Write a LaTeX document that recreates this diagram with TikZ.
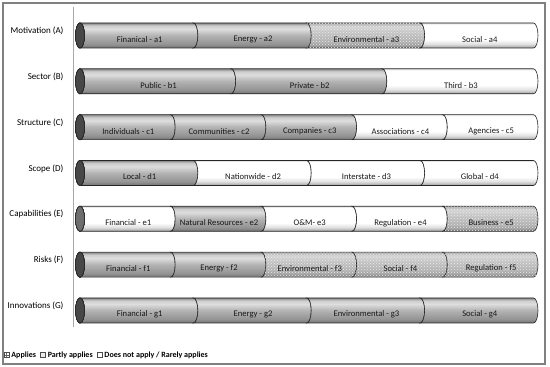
\documentclass[tikz,border=0pt]{standalone}
\usepackage{fontspec}
\setmainfont{Carlito}
\usetikzlibrary{positioning,patterns}
\definecolor{framegray}{HTML}{808080}
\definecolor{rulegray}{HTML}{A8A8A8}
\definecolor{capdark}{HTML}{474747}
\definecolor{capmid}{HTML}{6E6E6E}

% cylinder shadings, 25bp = bottom, 75bp = top
\pgfdeclareverticalshading{appliesshade}{100bp}{color(0bp)=(black!55); color(25bp)=(black!55); color(33bp)=(black!42); color(50bp)=(black!30); color(63bp)=(black!13); color(70bp)=(black!20); color(75bp)=(black!48); color(100bp)=(black!48)}
\pgfdeclareverticalshading{partshade}{100bp}{color(0bp)=(black!48); color(25bp)=(black!48); color(36bp)=(black!32); color(55bp)=(black!24); color(68bp)=(black!17); color(75bp)=(black!32); color(100bp)=(black!32)}
\pgfdeclareverticalshading{noneshade}{100bp}{color(0bp)=(black!38); color(25bp)=(black!38); color(33bp)=(black!12); color(42bp)=(white); color(72bp)=(white); color(75bp)=(black!15); color(100bp)=(black!15)}

\tikzset{
  rowlabel/.style={font=\fontsize{9}{10}\selectfont, anchor=east},
  seglabel/.style={font=\fontsize{8.6}{10}\selectfont, text=black!90},
  segline/.style={draw=black!85, line width=0.6pt},
  applies/.style={shading=appliesshade},
  partapply/.style={shading=partshade, postaction={pattern=crosshatch dots, pattern color=white!92!black}},
  notapply/.style={shading=noneshade},
  legbox/.style={draw=black!70, line width=0.4pt, minimum size=5pt, inner sep=0pt},
  legtext/.style={font=\bfseries\fontsize{8}{9}\selectfont, inner sep=0pt},
}

% #1 row y, #2 left x, #3 right x, #4 look, #5 name, #6 text
\newcommand{\barseg}[6]{%
  \draw[#4, segline] ({#2},{#1+12.5}) -- ({#3},{#1+12.5})
    arc[start angle=90, end angle=-90, x radius=4.5, y radius=12.5]
    -- ({#2},{#1-12.5})
    arc[start angle=-90, end angle=90, x radius=4.5, y radius=12.5] -- cycle;
  \node[seglabel] (#5) at ({(#2+#3)/2+3},{#1-4}) {#6};
}

\begin{document}
\begin{tikzpicture}[x=1pt, y=1pt]
  \useasboundingbox[fill=white] (0,0) rectangle (550,367);
  \draw[framegray, line width=1.2pt] (3,3) rectangle (545,364);
  \draw[rulegray, line width=1.5pt] (73.5,40) -- (73.5,360);

  % row names
  \node[rowlabel] (ra) at (67,336) {Motivation (A)};
  \node[rowlabel] (rb) at (67,290.2) {Sector (B)};
  \node[rowlabel] (rc) at (67,244.3) {Structure (C)};
  \node[rowlabel] (rd) at (67,198.5) {Scope (D)};
  \node[rowlabel] (re) at (67,152.7) {Capabilities (E)};
  \node[rowlabel] (rf) at (67,106.8) {Risks (F)};
  \node[rowlabel] (rg) at (67,61) {Innovations (G)};

  % bars
  \foreach \st/\nm/\tx [count=\i] in {applies/a1/{Finanical - a1}, applies/a2/{Energy - a2}, partapply/a3/{Environmental - a3}, notapply/a4/{Social - a4}}
    \barseg{331.5}{80+(\i-1)*113.375}{80+\i*113.375}{\st}{\nm}{\tx}
  \draw[segline, fill=capdark] (80,331.5) ellipse[x radius=4.5, y radius=12.5];

  \foreach \st/\nm/\tx [count=\i] in {applies/b1/{Public - b1}, applies/b2/{Private - b2}, notapply/b3/{Third - b3}}
    \barseg{285.7}{80+(\i-1)*151.167}{80+\i*151.167}{\st}{\nm}{\tx}
  \draw[segline, fill=capdark] (80,285.7) ellipse[x radius=4.5, y radius=12.5];

  \foreach \st/\nm/\tx [count=\i] in {applies/c1/{Individuals - c1}, applies/c2/{Communities - c2}, applies/c3/{Companies - c3}, notapply/c4/{Associations - c4}, notapply/c5/{Agencies - c5}}
    \barseg{239.8}{80+(\i-1)*90.7}{80+\i*90.7}{\st}{\nm}{\tx}
  \draw[segline, fill=capdark] (80,239.8) ellipse[x radius=4.5, y radius=12.5];

  \foreach \st/\nm/\tx [count=\i] in {applies/d1/{Local - d1}, notapply/d2/{Nationwide - d2}, notapply/d3/{Interstate - d3}, notapply/d4/{Global - d4}}
    \barseg{194}{80+(\i-1)*113.375}{80+\i*113.375}{\st}{\nm}{\tx}
  \draw[segline, fill=capdark] (80,194) ellipse[x radius=4.5, y radius=12.5];

  \foreach \st/\nm/\tx [count=\i] in {notapply/e1/{Financial - e1}, applies/e2/{Natural Resources - e2}, notapply/e3/{O\&M- e3}, notapply/e4/{Regulation - e4}, partapply/e5/{Business - e5}}
    \barseg{148.2}{80+(\i-1)*90.7}{80+\i*90.7}{\st}{\nm}{\tx}
  \draw[segline, fill=capmid] (80,148.2) ellipse[x radius=4.5, y radius=12.5];

  \foreach \st/\nm/\tx [count=\i] in {applies/f1/{Financial - f1}, applies/f2/{Energy - f2}, partapply/f3/{Environmental - f3}, partapply/f4/{Social - f4}, partapply/f5/{Regulation - f5}}
    \barseg{102.3}{80+(\i-1)*90.7}{80+\i*90.7}{\st}{\nm}{\tx}
  \draw[segline, fill=capdark] (80,102.3) ellipse[x radius=4.5, y radius=12.5];

  \foreach \st/\nm/\tx [count=\i] in {applies/g1/{Financial - g1}, applies/g2/{Energy - g2}, applies/g3/{Environmental - g3}, applies/g4/{Social - g4}}
    \barseg{56.5}{80+(\i-1)*113.375}{80+\i*113.375}{\st}{\nm}{\tx}
  \draw[segline, fill=capdark] (80,56.5) ellipse[x radius=4.5, y radius=12.5];

  % legend
  \node[legbox, fill=black!40, pattern=grid, pattern color=black!60] (k1) at (6.5,12) {};
  \node[legtext, right=2pt of k1] (t1) {Applies};
  \node[legbox, fill=black!8, right=4pt of t1] (k2) {};
  \node[legtext, right=2pt of k2] (t2) {Partly applies};
  \node[legbox, fill=white, right=4pt of t2] (k3) {};
  \node[legtext, right=2pt of k3] (t3) {Does not apply / Rarely applies};
\end{tikzpicture}
\end{document}
